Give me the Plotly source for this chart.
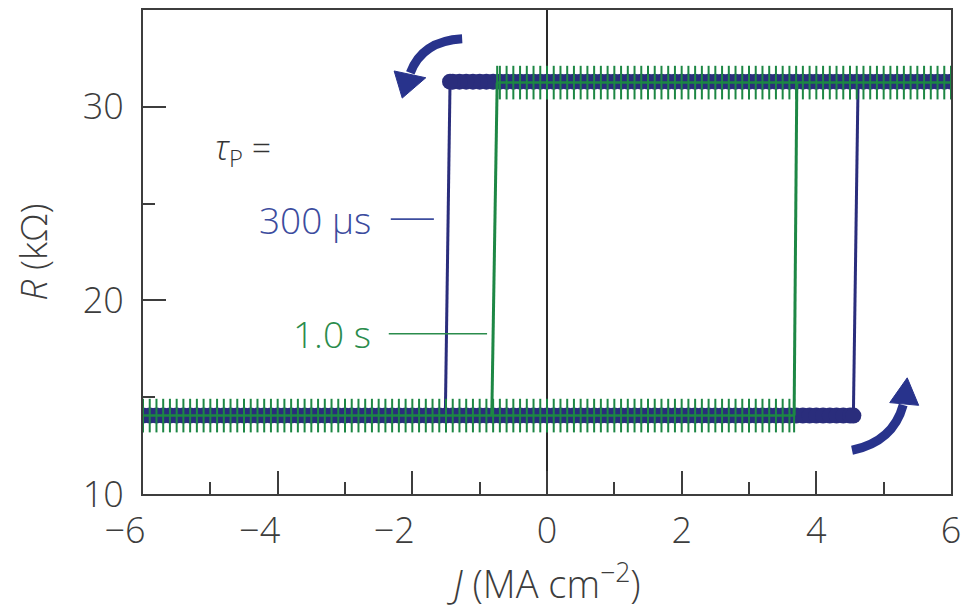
import numpy as np
import plotly.graph_objects as go

# Applied current-density sweep (MA cm^-2), sampled every 0.1
J_sweep = np.round(np.arange(-6.0, 6.0 + 1e-9, 0.1), 1)

# One loop per pulse width
pulse_widths = ["300 μs", "1.0 s"]
R_low = [14.05, 14.05]         # kΩ, parallel (low-resistance) state
R_high = [31.3, 31.25]         # kΩ, antiparallel (high-resistance) state
J_up_bottom = [4.55, 3.67]     # P -> AP switching current, low-R end
J_up_top = [4.62, 3.71]        # P -> AP switching current, high-R end
J_down_top = [-1.44, -0.74]    # AP -> P switching current, high-R end
J_down_bottom = [-1.51, -0.82] # AP -> P switching current, low-R end

# Axis ticks
x_tickvals = [-6, -4, -2, 0, 2, 4, 6]
x_ticktext = ["−6", "−4", "−2", "0", "2", "4", "6"]
y_tickvals = [10, 20, 30]

line_colors = ["#2a2d7c", "#1d8744"]
text_colors = ["#3c4c9e", "#2b8c4c"]

AXIS = "#3d3d3d"
FONT = "Open Sans"
WEIGHT = 300

fig = go.Figure()


def branches(i):
    lo = np.append(J_sweep[J_sweep < J_up_bottom[i]], J_up_bottom[i])
    hi = np.append(J_sweep[J_sweep > J_down_top[i]][::-1], J_down_top[i])
    return lo, hi


for i, name in enumerate(pulse_widths):
    c = line_colors[i]
    lo, hi = branches(i)
    # switching steps
    fig.add_trace(go.Scatter(
        x=[J_up_bottom[i], J_up_top[i]], y=[R_low[i], R_high[i]],
        mode="lines", line=dict(color=c, width=3), showlegend=False,
        hoverinfo="skip"))
    fig.add_trace(go.Scatter(
        x=[J_down_top[i], J_down_bottom[i]], y=[R_high[i], R_low[i]],
        mode="lines", line=dict(color=c, width=3), showlegend=False,
        hoverinfo="skip"))
    for xs, r in ((lo, R_low[i]), (hi, R_high[i])):
        ys = np.full(len(xs), r)
        if i == 0:
            fig.add_trace(go.Scatter(
                x=xs, y=ys, mode="markers", name=name, showlegend=False,
                marker=dict(symbol="circle", size=16, color=c,
                            line=dict(width=0))))
        else:
            fig.add_trace(go.Scatter(
                x=xs, y=ys, mode="lines+markers", name=name, showlegend=False,
                line=dict(color=c, width=2.5),
                marker=dict(symbol="line-ns", size=24,
                            line=dict(width=2, color=c))))

# Label for the pulse-width series
ann = []
ann.append(dict(x=-4.96, y=27.8, xref="x", yref="y", xanchor="left",
                yanchor="middle", showarrow=False,
                text="<i>τ</i><sub>P</sub> =",
                font=dict(family=FONT, size=34, color="#333333",
                          weight=WEIGHT)))
label_y = [24.2, 18.28]
lead_x = [(-2.32, -1.68), (-2.35, -0.89)]
for i, name in enumerate(pulse_widths):
    ann.append(dict(x=-2.58, y=label_y[i], xref="x", yref="y",
                    xanchor="right", yanchor="middle", showarrow=False,
                    text=name, font=dict(family=FONT, size=37,
                                         color=text_colors[i],
                                         weight=WEIGHT)))

shapes = []
for i in range(2):
    shapes.append(dict(type="line", xref="x", yref="y",
                       x0=lead_x[i][0], x1=lead_x[i][1],
                       y0=label_y[i], y1=label_y[i],
                       line=dict(color=text_colors[i], width=1.6)))

# Curved arrows indicating sweep direction
ARROW = "#28338c"
shapes += [
    dict(type="path", xref="x", yref="y",
         path="M -1.26,33.51 Q -1.85,33.40 -2.03,31.75",
         line=dict(color=ARROW, width=9)),
    dict(type="path", xref="x", yref="y",
         path="M -2.27,31.85 L -1.80,31.50 L -2.15,30.45 Z",
         fillcolor=ARROW, line=dict(color=ARROW, width=1)),
    dict(type="path", xref="x", yref="y",
         path="M 4.53,12.26 Q 5.14,12.70 5.29,14.60",
         line=dict(color=ARROW, width=9)),
    dict(type="path", xref="x", yref="y",
         path="M 5.09,14.72 L 5.52,14.58 L 5.35,16.0 Z",
         fillcolor=ARROW, line=dict(color=ARROW, width=1)),
]

fig.update_layout(
    width=971, height=613,
    margin=dict(l=143, r=20, t=8, b=119),
    paper_bgcolor="white", plot_bgcolor="white",
    font=dict(family=FONT, color=AXIS, weight=WEIGHT),
    annotations=ann, shapes=shapes,
    showlegend=False,
)

# negative labels: the minus sign hangs to the left of the tick
pad = "\u2002\u2002"
fig.update_xaxes(
    range=[-6, 6], tickmode="array", tickvals=x_tickvals,
    ticktext=[t + pad if t.startswith("−") else t for t in x_ticktext],
    ticks="inside", ticklen=23, tickwidth=2, tickcolor=AXIS,
    minor=dict(dtick=1, ticks="inside", ticklen=12, tickwidth=2,
               tickcolor=AXIS, showgrid=False),
    showline=True, linecolor=AXIS, linewidth=2, mirror=True,
    showgrid=False, zeroline=True, zerolinecolor="#2a2a2a", zerolinewidth=2,
    ticklabelstandoff=4,
    tickfont=dict(family=FONT, size=36, color=AXIS, weight=WEIGHT),
    title=dict(text="<i>J</i> (MA cm<sup>−2</sup>)",
               font=dict(family=FONT, size=38, color=AXIS, weight=WEIGHT),
               standoff=16),
)
fig.update_yaxes(
    range=[10, 35], tickmode="array", tickvals=y_tickvals,
    ticks="inside", ticklen=23, tickwidth=2, tickcolor=AXIS,
    minor=dict(tickvals=[15, 25], ticks="inside", ticklen=12, tickwidth=2,
               tickcolor=AXIS, showgrid=False),
    showline=True, linecolor=AXIS, linewidth=2, mirror=True,
    showgrid=False, zeroline=False, ticklabelstandoff=10,
    tickfont=dict(family=FONT, size=36, color=AXIS, weight=WEIGHT),
    title=dict(text="<i>R</i> (kΩ)",
               font=dict(family=FONT, size=37, color=AXIS, weight=WEIGHT),
               standoff=24),
)

fig.write_html("out.html")
